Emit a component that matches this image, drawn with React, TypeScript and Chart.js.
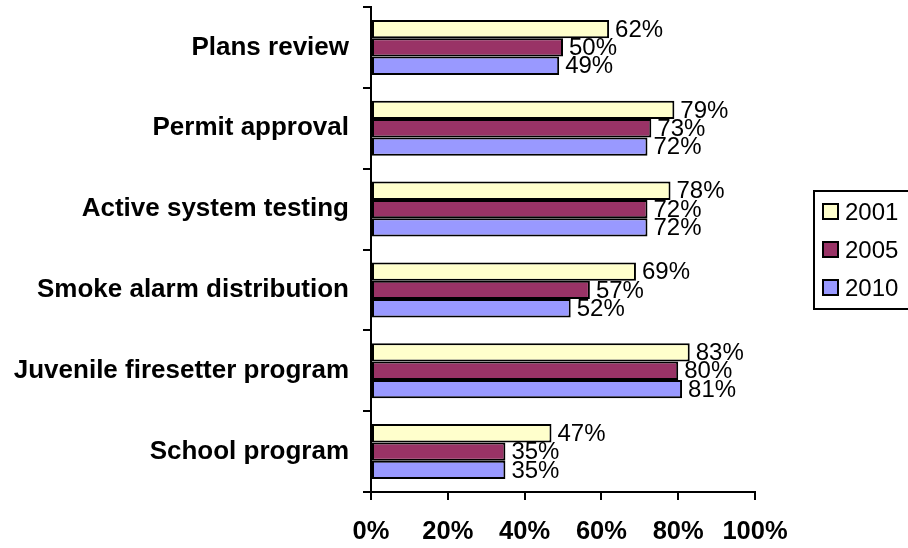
import React, { useEffect, useRef } from "react";
import { Chart, registerables } from "chart.js";

Chart.register(...registerables);

const categories = [
  "Plans review",
  "Permit approval",
  "Active system testing",
  "Smoke alarm distribution",
  "Juvenile firesetter program",
  "School program",
];
const seriesNames = ["2001", "2005", "2010"];
const values2001 = [62, 79, 78, 69, 83, 47];
const values2005 = [50, 73, 72, 57, 80, 35];
const values2010 = [49, 72, 72, 52, 81, 35];
const xTicks = [0, 20, 40, 60, 80, 100];
const colors = ["#FFFFCC", "#993366", "#9999FF"];

const FONT = '"Liberation Sans", Arial, sans-serif';

const dataLabelPlugin = {
  id: "dataLabels",
  afterDatasetsDraw(chart: any) {
    const ctx = chart.ctx;
    ctx.save();
    ctx.font = `24px ${FONT}`;
    ctx.fillStyle = "#000";
    ctx.textAlign = "left";
    ctx.textBaseline = "middle";
    chart.data.datasets.forEach((ds: any, i: number) => {
      const meta = chart.getDatasetMeta(i);
      meta.data.forEach((el: any, j: number) => {
        ctx.fillText(ds.data[j] + "%", el.x + 6, el.y + 1);
      });
    });
    ctx.restore();
  },
};

const legendPlugin = {
  id: "customLegend",
  afterDraw(chart: any) {
    const ctx = chart.ctx;
    ctx.save();
    ctx.strokeStyle = "#000";
    ctx.lineWidth = 2;
    ctx.strokeRect(814, 191, 110, 118);
    ctx.font = `24px ${FONT}`;
    ctx.textBaseline = "middle";
    ctx.textAlign = "left";
    chart.data.datasets.forEach((ds: any, i: number) => {
      const cy = 212 + i * 38;
      ctx.fillStyle = ds.backgroundColor;
      ctx.fillRect(823, cy - 8, 15, 15);
      ctx.lineWidth = 2;
      ctx.strokeStyle = "#000";
      ctx.strokeRect(823, cy - 8, 15, 15);
      ctx.fillStyle = "#000";
      ctx.fillText(ds.label, 845, cy + 1);
    });
    ctx.restore();
  },
};

export default function App() {
  const ref = useRef<HTMLCanvasElement>(null);
  useEffect(() => {
    if (!ref.current) return;
    const datasets = [values2001, values2005, values2010].map((vals, i) => ({
      label: seriesNames[i],
      data: vals,
      backgroundColor: colors[i],
      borderColor: "#000",
      borderWidth: 2,
      borderSkipped: false,
      categoryPercentage: 0.68,
      barPercentage: 1,
    }));
    const chart = new Chart(ref.current, {
      type: "bar",
      data: { labels: categories, datasets },
      options: {
        indexAxis: "y",
        animation: false,
        responsive: false,
        layout: { padding: { top: 7, right: 153, left: 0, bottom: 0 } },
        plugins: { legend: { display: false }, tooltip: { enabled: false } },
        scales: {
          x: {
            min: 0,
            max: 100,
            afterBuildTicks: (scale: any) => {
              scale.ticks = xTicks.map((v) => ({ value: v }));
            },
            afterFit: (scale: any) => {
              scale.height = 56;
              scale.paddingLeft = 0;
              scale.paddingRight = 0;
            },
            ticks: {
              callback: (v: any) => v + "%",
              font: { family: FONT, size: 25.5, weight: "bold" },
              color: "#000",
              padding: 17,
              maxRotation: 0,
            },
            grid: {
              drawOnChartArea: false,
              drawTicks: true,
              tickLength: 8,
              color: "#000",
              lineWidth: 2,
            },
            border: { color: "#000", width: 2 },
          },
          y: {
            afterFit: (scale: any) => {
              scale.width = 371;
              scale.paddingTop = 0;
              scale.paddingBottom = 0;
            },
            ticks: {
              font: { family: FONT, size: 26, weight: "bold" },
              color: "#000",
              padding: 14,
            },
            grid: {
              drawOnChartArea: false,
              drawTicks: true,
              tickLength: 8,
              color: "#000",
              lineWidth: 2,
              offset: true,
            },
            border: { color: "#000", width: 2 },
          },
        },
      },
      plugins: [dataLabelPlugin, legendPlugin],
    } as any);
    return () => chart.destroy();
  }, []);
  return (
    <div style={{ position: "absolute", left: 0, top: 0, width: 908, height: 548, background: "#fff" }}>
      <canvas ref={ref} width={908} height={548} style={{ display: "block" }} />
    </div>
  );
}
